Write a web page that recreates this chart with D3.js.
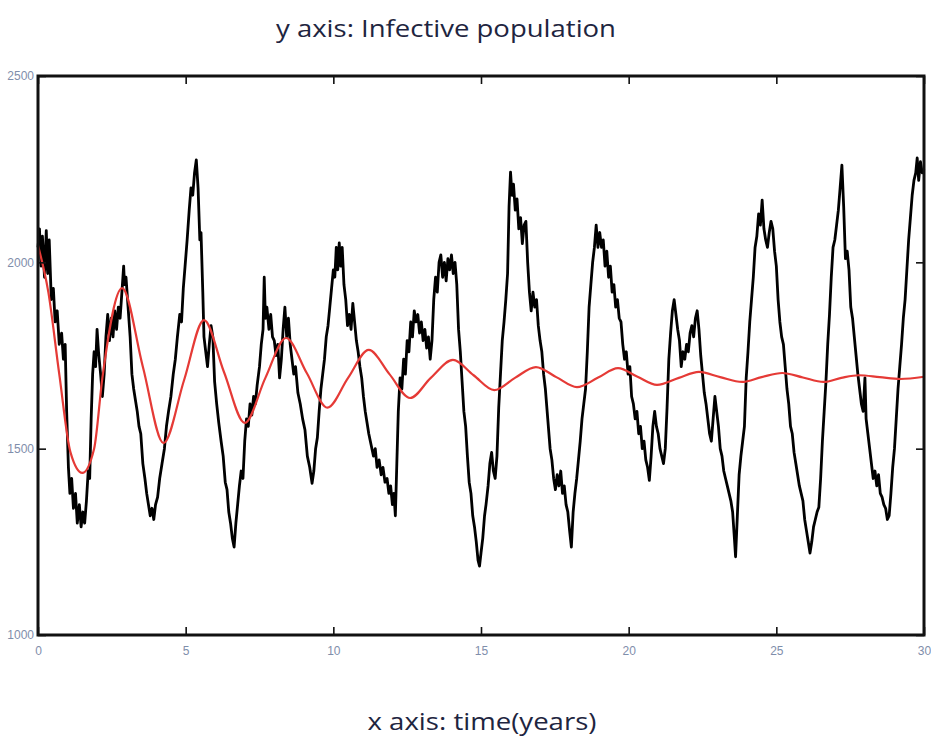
<!DOCTYPE html>
<html>
<head>
<meta charset="utf-8">
<script src="https://cdn.jsdelivr.net/npm/d3@7"></script>
<style>
  body { margin: 0; background: #fff; }
  svg { display: block; }
</style>
</head>
<body>
<svg></svg>
<script>
var width = 931;
var height = 738;
var margin = { top: 76, right: 7, bottom: 103, left: 38 };

var titleText = "y axis: Infective population";
var xLabelText = "x axis: time(years)";

var xTicks = [0, 5, 10, 15, 20, 25, 30];
var yTicks = [1000, 1500, 2000, 2500];

// stochastic run, [time, infectives]
var stochastic = [
  [0.00,2040],[0.05,2090],[0.10,1990],[0.15,2070],[0.22,1960],[0.28,2085],[0.33,1970],[0.38,2060],
  [0.45,1900],[0.52,1930],[0.58,1840],[0.65,1870],[0.72,1780],[0.80,1810],[0.86,1740],[0.92,1780],
  [0.97,1600],[1.03,1450],[1.08,1380],[1.14,1420],[1.20,1340],[1.27,1380],[1.33,1300],[1.40,1350],
  [1.46,1290],[1.52,1330],[1.58,1300],[1.64,1360],[1.70,1440],[1.75,1420],[1.80,1580],[1.85,1700],
  [1.90,1760],[1.95,1720],[2.00,1820],[2.05,1760],[2.12,1700],[2.18,1640],[2.24,1700],[2.30,1800],
  [2.36,1860],[2.42,1790],[2.48,1850],[2.54,1800],[2.60,1870],[2.66,1820],[2.72,1880],[2.78,1850],
  [2.85,1930],[2.90,1990],[2.93,1940],[2.98,1960],[3.05,1880],[3.12,1800],[3.18,1700],[3.24,1660],
  [3.30,1630],[3.36,1600],[3.42,1560],[3.48,1540],[3.55,1460],[3.62,1420],[3.68,1380],[3.74,1350],
  [3.80,1320],[3.86,1340],[3.92,1310],[3.98,1350],[4.05,1370],[4.12,1420],[4.20,1460],[4.28,1500],
  [4.35,1560],[4.42,1600],[4.50,1640],[4.58,1700],[4.65,1740],[4.72,1800],[4.80,1860],[4.86,1840],
  [4.92,1930],[4.98,1990],[5.05,2060],[5.12,2140],[5.18,2200],[5.24,2180],[5.30,2240],[5.36,2275],
  [5.42,2200],[5.48,2060],[5.52,2080],[5.58,1920],[5.62,1800],[5.68,1760],[5.74,1720],[5.80,1780],
  [5.86,1830],[5.92,1800],[5.98,1680],[6.05,1620],[6.12,1570],[6.20,1520],[6.27,1480],[6.34,1410],
  [6.40,1390],[6.46,1330],[6.52,1300],[6.58,1260],[6.64,1236],[6.70,1300],[6.76,1350],[6.82,1400],
  [6.88,1440],[6.94,1420],[7.00,1520],[7.06,1580],[7.12,1560],[7.18,1620],[7.24,1590],[7.30,1640],
  [7.36,1620],[7.42,1670],[7.50,1720],[7.56,1780],[7.62,1820],[7.66,1960],[7.70,1850],[7.75,1880],
  [7.82,1820],[7.88,1860],[7.94,1800],[8.00,1790],[8.06,1750],[8.12,1780],[8.18,1690],[8.24,1740],
  [8.30,1820],[8.36,1880],[8.42,1800],[8.48,1850],[8.54,1780],[8.60,1740],[8.66,1700],[8.72,1720],
  [8.80,1650],[8.88,1620],[8.96,1580],[9.04,1550],[9.12,1480],[9.20,1450],[9.28,1407],[9.34,1440],
  [9.40,1500],[9.46,1530],[9.52,1600],[9.58,1660],[9.64,1700],[9.70,1740],[9.76,1800],[9.82,1830],
  [9.88,1880],[9.94,1930],[10.00,1980],[10.05,1960],[10.10,2040],[10.15,1980],[10.20,2052],[10.25,1990],
  [10.30,2040],[10.36,1940],[10.42,1900],[10.48,1830],[10.54,1860],[10.60,1820],[10.66,1890],[10.72,1840],
  [10.78,1790],[10.84,1760],[10.90,1720],[10.96,1690],[11.02,1640],[11.08,1600],[11.14,1570],[11.20,1540],
  [11.28,1510],[11.36,1480],[11.42,1500],[11.48,1450],[11.55,1470],[11.62,1430],[11.68,1450],[11.75,1410],
  [11.82,1420],[11.88,1380],[11.94,1400],[12.00,1350],[12.05,1380],[12.10,1320],[12.15,1460],[12.20,1600],
  [12.26,1690],[12.32,1660],[12.38,1740],[12.44,1700],[12.50,1790],[12.56,1760],[12.62,1840],[12.68,1800],
  [12.74,1870],[12.80,1840],[12.86,1860],[12.92,1810],[12.98,1840],[13.04,1790],[13.10,1820],[13.16,1770],
  [13.22,1800],[13.28,1740],[13.34,1790],[13.40,1900],[13.46,1960],[13.52,1920],[13.58,2000],[13.64,2020],
  [13.70,1960],[13.76,2000],[13.82,1950],[13.88,2010],[13.94,1980],[14.00,2020],[14.06,1970],[14.12,2000],
  [14.18,1940],[14.24,1820],[14.30,1760],[14.36,1680],[14.42,1600],[14.48,1560],[14.54,1480],[14.60,1410],
  [14.66,1380],[14.72,1320],[14.78,1290],[14.84,1250],[14.90,1200],[14.95,1185],[15.00,1220],[15.06,1260],
  [15.12,1320],[15.17,1350],[15.24,1400],[15.30,1460],[15.36,1490],[15.42,1440],[15.48,1420],[15.54,1480],
  [15.60,1610],[15.66,1700],[15.72,1790],[15.78,1840],[15.84,1900],[15.90,1970],[15.95,2150],[16.00,2242],
  [16.05,2180],[16.10,2210],[16.16,2140],[16.22,2170],[16.28,2090],[16.34,2120],[16.40,2050],[16.46,2100],
  [16.52,2110],[16.58,2000],[16.64,1920],[16.70,1870],[16.76,1920],[16.82,1880],[16.88,1900],[16.94,1830],
  [17.00,1790],[17.06,1760],[17.12,1700],[17.18,1660],[17.26,1580],[17.34,1500],[17.40,1470],[17.46,1420],
  [17.52,1390],[17.58,1430],[17.64,1400],[17.70,1440],[17.76,1380],[17.82,1400],[17.88,1350],[17.94,1330],
  [18.00,1280],[18.06,1236],[18.12,1330],[18.18,1380],[18.24,1420],[18.30,1470],[18.36,1520],[18.42,1580],
  [18.48,1620],[18.54,1660],[18.60,1760],[18.66,1880],[18.72,1940],[18.78,2000],[18.84,2040],[18.90,2100],
  [18.96,2040],[19.02,2080],[19.08,2040],[19.14,2060],[19.20,1990],[19.26,2030],[19.32,1960],[19.38,1990],
  [19.44,1920],[19.50,1940],[19.56,1880],[19.62,1900],[19.68,1850],[19.74,1840],[19.80,1780],[19.86,1740],
  [19.92,1760],[19.98,1700],[20.04,1720],[20.10,1640],[20.16,1620],[20.22,1580],[20.28,1600],[20.34,1540],
  [20.40,1560],[20.46,1500],[20.52,1520],[20.58,1470],[20.64,1450],[20.70,1415],[20.76,1480],[20.82,1560],
  [20.88,1600],[20.94,1560],[21.00,1540],[21.06,1500],[21.12,1480],[21.18,1460],[21.24,1500],[21.30,1610],
  [21.36,1740],[21.42,1810],[21.48,1870],[21.54,1900],[21.60,1860],[21.66,1820],[21.72,1790],[21.78,1720],
  [21.84,1760],[21.90,1740],[21.96,1780],[22.02,1760],[22.08,1810],[22.14,1830],[22.20,1800],[22.26,1850],
  [22.32,1870],[22.38,1820],[22.44,1750],[22.50,1700],[22.56,1650],[22.62,1620],[22.68,1580],[22.74,1540],
  [22.80,1520],[22.86,1580],[22.92,1640],[22.98,1600],[23.04,1560],[23.10,1500],[23.16,1480],[23.22,1440],
  [23.28,1420],[23.34,1400],[23.40,1380],[23.46,1360],[23.52,1330],[23.58,1260],[23.62,1210],[23.68,1320],
  [23.74,1430],[23.80,1480],[23.86,1520],[23.92,1560],[23.98,1690],[24.04,1760],[24.10,1840],[24.16,1900],
  [24.22,1960],[24.28,2040],[24.34,2070],[24.40,2130],[24.46,2100],[24.52,2167],[24.58,2090],[24.64,2060],
  [24.70,2040],[24.76,2080],[24.82,2110],[24.88,2090],[24.94,2030],[25.00,1990],[25.06,1900],[25.12,1840],
  [25.18,1800],[25.24,1780],[25.30,1720],[25.36,1660],[25.42,1620],[25.48,1560],[25.54,1540],[25.60,1490],
  [25.66,1460],[25.72,1430],[25.78,1400],[25.84,1380],[25.90,1360],[25.96,1310],[26.02,1280],[26.08,1250],
  [26.14,1220],[26.20,1250],[26.26,1290],[26.32,1310],[26.38,1330],[26.44,1343],[26.50,1420],[26.56,1520],
  [26.62,1600],[26.68,1680],[26.74,1780],[26.80,1860],[26.86,1960],[26.92,2040],[26.98,2060],[27.04,2100],
  [27.10,2140],[27.16,2200],[27.22,2261],[27.28,2150],[27.34,2010],[27.40,2030],[27.46,1980],[27.52,1880],
  [27.58,1850],[27.64,1800],[27.70,1750],[27.76,1700],[27.82,1660],[27.88,1620],[27.94,1600],[28.00,1690],
  [28.04,1580],[28.10,1540],[28.16,1500],[28.22,1460],[28.28,1420],[28.34,1440],[28.40,1400],[28.46,1430],
  [28.52,1380],[28.58,1370],[28.64,1350],[28.70,1340],[28.76,1310],[28.82,1320],[28.88,1380],[28.94,1450],
  [29.00,1500],[29.06,1580],[29.12,1660],[29.18,1720],[29.24,1780],[29.30,1850],[29.36,1900],[29.42,1980],
  [29.48,2060],[29.54,2120],[29.60,2180],[29.66,2220],[29.72,2240],[29.77,2280],[29.82,2220],[29.88,2270],
  [29.94,2240],[30.00,2250]
];

// deterministic solution: extrema and crossings
var deterministic = [
  [0.00,2045],[0.35,1920],[0.72,1700],[1.10,1490],[1.50,1435],[1.90,1500],[2.18,1690],[2.85,1931],
  [3.55,1720],[4.25,1515],[4.95,1685],[5.62,1845],[6.30,1705],[7.00,1569],[7.70,1690],[8.40,1797],
  [9.10,1703],[9.80,1610],[10.50,1690],[11.20,1765],[11.90,1700],[12.60,1636],[13.30,1690],[14.05,1738],
  [14.75,1697],[15.45,1657],[16.15,1690],[16.86,1719],[17.55,1692],[18.25,1665],[18.95,1690],[19.64,1716],
  [20.30,1693],[20.96,1671],[21.70,1690],[22.38,1706],[23.10,1692],[23.84,1679],[24.50,1692],[25.20,1703],
  [25.90,1691],[26.60,1679],[27.20,1690],[27.80,1697],[28.50,1692],[29.20,1687],[30.00,1693]
];

var svg = d3.select("svg")
            .attr("width", width)
            .attr("height", height);

var xScale = d3.scaleLinear()
                .domain([0, 30])
                .range([margin.left, width - margin.right]);

var yScale = d3.scaleLinear()
                .domain([1000, 2500])
                .range([height - margin.bottom, margin.top]);

var line = d3.line()
              .x(d => xScale(d[0]))
              .y(d => yScale(d[1]));

var smooth = d3.line()
              .x(d => xScale(d[0]))
              .y(d => yScale(d[1]))
              .curve(d3.curveMonotoneX);

svg.append("path")
    .datum(stochastic)
    .attr("fill", "none")
    .attr("stroke", "#000")
    .attr("stroke-width", 2.8)
    .attr("stroke-linejoin", "round")
    .attr("d", line);

svg.append("path")
    .datum(deterministic)
    .attr("fill", "none")
    .attr("stroke", "#e53a36")
    .attr("stroke-width", 2.2)
    .attr("d", smooth);

// axes: matlab-style box with inward ticks
var tickFont = "'Liberation Sans Narrow', 'Liberation Sans', sans-serif";

var xAxis = d3.axisBottom(xScale).tickValues(xTicks).tickSize(-8).tickPadding(11).tickFormat(d3.format("d"));
var xAxisTop = d3.axisTop(xScale).tickValues(xTicks).tickSize(-8).tickFormat("");
var yAxis = d3.axisLeft(yScale).tickValues(yTicks).tickSize(-8).tickPadding(4).tickFormat(d3.format("d"));
var yAxisRight = d3.axisRight(yScale).tickValues(yTicks).tickSize(-8).tickFormat("");

function styleAxis(g) {
  g.select(".domain").remove();
  g.selectAll(".tick line").attr("stroke", "#111").attr("stroke-width", 1.6);
  g.selectAll(".tick text")
    .attr("fill", "#7f8eab")
    .attr("font-family", tickFont)
    .attr("font-size", 12);
}

svg.append("g")
    .attr("transform", "translate(0," + (height - margin.bottom) + ")")
    .call(xAxis)
    .call(styleAxis);

svg.append("g")
    .attr("transform", "translate(0," + margin.top + ")")
    .call(xAxisTop)
    .call(styleAxis);

svg.append("g")
    .attr("transform", "translate(" + margin.left + ",0)")
    .call(yAxis)
    .call(styleAxis);

svg.append("g")
    .attr("transform", "translate(" + (width - margin.right) + ",0)")
    .call(yAxisRight)
    .call(styleAxis);

svg.append("rect")
    .attr("x", margin.left)
    .attr("y", margin.top)
    .attr("width", width - margin.left - margin.right)
    .attr("height", height - margin.top - margin.bottom)
    .attr("fill", "none")
    .attr("stroke", "#111")
    .attr("stroke-width", 3);

svg.append("text")
    .attr("x", 446)
    .attr("y", 37)
    .attr("text-anchor", "middle")
    .attr("font-family", "'Open Sans', Lato, sans-serif")
    .attr("font-size", 24)
    .attr("textLength", 340)
    .attr("lengthAdjust", "spacingAndGlyphs")
    .attr("fill", "#1e2540")
    .text(titleText);

svg.append("text")
    .attr("x", 482)
    .attr("y", 730)
    .attr("text-anchor", "middle")
    .attr("font-family", "'Open Sans', Lato, sans-serif")
    .attr("font-size", 24)
    .attr("textLength", 229)
    .attr("lengthAdjust", "spacingAndGlyphs")
    .attr("fill", "#1e2540")
    .text(xLabelText);
</script>
</body>
</html>
